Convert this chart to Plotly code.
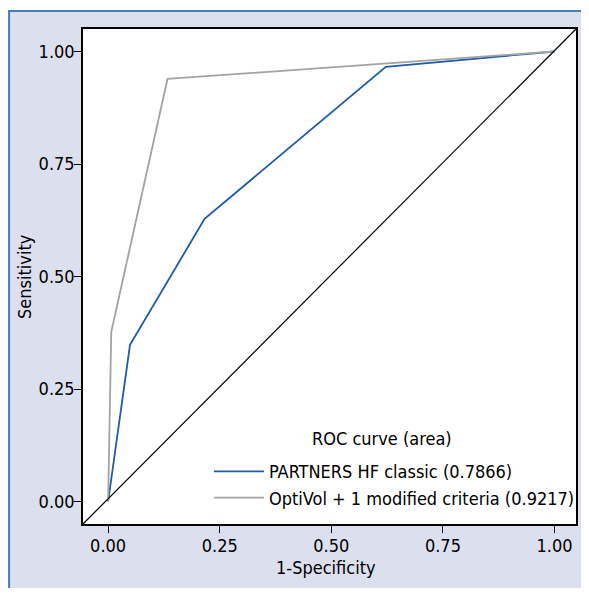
import plotly.graph_objects as go

# Data
partners_fpr = [0.0, 0.049, 0.216, 0.622, 1.0]
partners_tpr = [0.0, 0.348, 0.628, 0.966, 1.0]
optivol_fpr = [0.0, 0.007, 0.133, 1.0]
optivol_tpr = [0.0, 0.377, 0.939, 1.0]
series_names = ["PARTNERS HF classic (0.7866)", "OptiVol + 1 modified criteria (0.9217)"]
legend_title = "ROC curve (area)"
x_title = "1-Specificity"
y_title = "Sensitivity"
tick_vals = [0, 0.25, 0.5, 0.75, 1.0]
tick_text = ["0.00", "0.25", "0.50", "0.75", "1.00"]

FONT = "DejaVu Sans Condensed, Liberation Sans Narrow, Arial Narrow, sans-serif"
FS = 18
W, H = 573, 580
L, R, T, B = 75, 1, 21, 64
pw, ph = W - L - R, H - T - B


def px_x(p):
    return (p - L) / pw


def px_y(p):
    return (H - B - p) / ph


fig = go.Figure()
fig.add_trace(go.Scatter(x=partners_fpr, y=partners_tpr, mode="lines",
                         name=series_names[0], line=dict(color="#1F5BA6", width=1.8)))
fig.add_trace(go.Scatter(x=optivol_fpr, y=optivol_tpr, mode="lines",
                         name=series_names[1], line=dict(color="#A3A3A3", width=1.8)))

shapes = [
    # diagonal reference line, corner to corner
    dict(type="line", xref="paper", yref="paper", x0=0, y0=0, x1=1, y1=1,
         line=dict(color="black", width=1.2), layer="above"),
    # white strip above the frame
    dict(type="rect", xref="paper", yref="paper", x0=px_x(-5), x1=px_x(W + 5),
         y0=px_y(2), y1=px_y(-5), fillcolor="white", line=dict(width=0), layer="above"),
    # blue frame lines
    dict(type="line", xref="paper", yref="paper", x0=px_x(0.5), x1=px_x(0.5),
         y0=px_y(H + 5), y1=px_y(2), line=dict(color="#4A7CB8", width=2), layer="above"),
    dict(type="line", xref="paper", yref="paper", x0=px_x(-1), x1=px_x(W + 5),
         y0=px_y(3), y1=px_y(3), line=dict(color="#4A7CB8", width=2), layer="above"),
]

axis_common = dict(
    tickvals=tick_vals, ticktext=tick_text, showgrid=False, zeroline=False,
    showline=True, linecolor="black", linewidth=1.5, mirror=True,
    ticks="outside", ticklen=7, tickcolor="black", tickwidth=1.2,
    tickfont=dict(family=FONT, size=FS, color="black"),
)

annotations = [
    dict(text=legend_title, xref="paper", yref="paper", x=px_x(376), y=px_y(430),
         xanchor="center", yanchor="middle", showarrow=False,
         font=dict(family=FONT, size=FS, color="black")),
    dict(text=x_title, xref="paper", yref="paper", x=px_x(320), y=px_y(559),
         xanchor="center", yanchor="middle", showarrow=False,
         font=dict(family=FONT, size=FS, color="black")),
    dict(text=y_title, xref="paper", yref="paper", x=px_x(16), y=0.5, textangle=-90,
         xanchor="center", yanchor="middle", showarrow=False,
         font=dict(family=FONT, size=FS, color="black")),
]

fig.update_layout(
    width=W, height=H,
    margin=dict(l=L, r=R, t=T, b=B, pad=0),
    paper_bgcolor="#DCDFEE", plot_bgcolor="white",
    xaxis=dict(range=[-0.0563, 1.0481], ticklabelstandoff=-2, **axis_common),
    yaxis=dict(range=[-0.05, 1.05], ticklabelstandoff=-4, **axis_common),
    showlegend=True,
    legend=dict(
        font=dict(family=FONT, size=FS, color="black"),
        x=px_x(576), xanchor="right", y=0.016, yanchor="bottom",
        bgcolor="rgba(0,0,0,0)", borderwidth=0, itemwidth=50,
    ),
    shapes=shapes,
    annotations=annotations,
)

fig.write_html("out.html")
